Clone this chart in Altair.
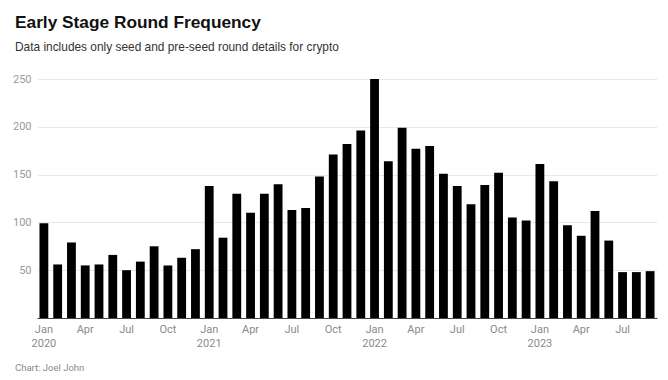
import altair as alt
import pandas as pd

months = [f"{y}-{m:02d}" for y in (2020, 2021, 2022, 2023) for m in range(1, 13)][:45]
values = [99, 56, 79, 55, 56, 66, 50, 59, 75, 55, 63, 72,
          138, 84, 130, 110, 130, 140, 113, 115, 148, 171, 182, 196,
          250, 164, 199, 177, 180, 151, 138, 119, 139, 152, 105, 102,
          161, 143, 97, 86, 112, 81, 48, 48, 49]
y_ticks = [50, 100, 150, 200, 250]

title_text = "Early Stage Round Frequency"
subtitle_text = "Data includes only seed and pre-seed round details for crypto"
footer_text = "Chart: Joel John"

df = pd.DataFrame({"month": months, "value": values})

label_expr = (
    "substring(datum.value,5,7)=='01' ? ['Jan', substring(datum.value,0,4)] : "
    "substring(datum.value,5,7)=='04' ? 'Apr' : "
    "substring(datum.value,5,7)=='07' ? 'Jul' : "
    "substring(datum.value,5,7)=='10' ? 'Oct' : ''"
)

bars = alt.Chart(df).mark_bar(color="#000000").encode(
    x=alt.X("month:O", sort=months,
            scale=alt.Scale(paddingInner=0.36, paddingOuter=0.18),
            axis=alt.Axis(title=None, labelAngle=0, ticks=False, labelExpr=label_expr,
                          labelOverlap=False, labelColor="#8a8a8a", labelFontSize=11,
                          labelFont="Roboto", labelPadding=5, labelLineHeight=14,
                          domainColor="#444444", domainWidth=1.2, grid=False)),
    y=alt.Y("value:Q", scale=alt.Scale(domain=[0, 250], nice=False),
            axis=alt.Axis(title=None, values=y_ticks, ticks=False, domain=False,
                          grid=True, gridColor="#e9e9e9", labelColor="#9a9a9a",
                          labelFontSize=11, labelFont="Roboto", labelPadding=6)),
)

def text_layer(txt, x, y, size, weight, color, font):
    return alt.Chart(pd.DataFrame({"t": [txt]})).mark_text(
        align="left", baseline="alphabetic", fontSize=size, fontWeight=weight,
        color=color, font=font
    ).encode(text="t:N", x=alt.value(x), y=alt.value(y))

title = text_layer(title_text, -22, -51, 17.3, "bold", "#111111", "Liberation Sans")
subtitle = text_layer(subtitle_text, -22, -28, 11.9, "normal", "#333333", "Liberation Sans")
footer = text_layer(footer_text, -22, 292, 9.5, "normal", "#8a8a8a", "Roboto")

chart = alt.layer(bars, title, subtitle, footer).properties(
    width=620, height=239,
    autosize=alt.AutoSizeParams(type="none"),
    padding={"left": 29, "top": 71, "right": 3, "bottom": 62},
).configure_view(stroke=None)

chart.save("out.html", embed_options={"renderer": "svg", "actions": False})
